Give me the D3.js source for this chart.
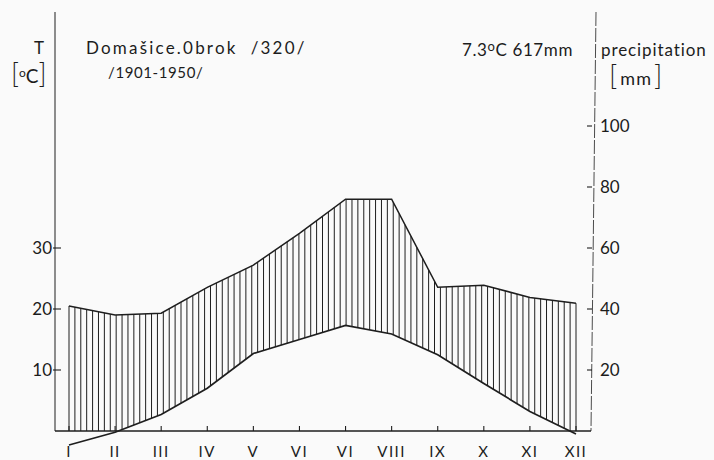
<!DOCTYPE html>
<html>
<head>
<meta charset="utf-8">
<script src="https://cdn.jsdelivr.net/npm/d3@7/dist/d3.min.js"></script>
<style>
  html, body { margin: 0; padding: 0; background: #fafafa; }
  svg { display: block; }
  text { font-family: Lato, "Open Sans", sans-serif; fill: #1c1c1c; }
</style>
</head>
<body>
<svg id="chart" width="714" height="460"></svg>
<script>
// ---- data ----
const months = ["I","II","III","IV","V","VI","VII","VIII","IX","X","XI","XII"];
const monthLabels = ["I","II","III","IV","V","VI","VI","VIII","IX","X","XI","XII"];
const temperature = [-2.3, -0.2, 2.7, 7.0, 12.7, 15.0, 17.3, 15.9, 12.5, 7.8, 3.2, -0.5];   // °C
const precipitation = [41.0, 38.0, 38.6, 47.1, 54.4, 64.8, 76.0, 76.0, 47.1, 47.8, 43.8, 41.9]; // mm
const tempTicks = [10, 20, 30];
const precTicks = [20, 40, 60, 80, 100];
const stationName = "Domašice.0brok  /320/";
const period = "/1901-1950/";
const meanTemp = "7.3";
const annualPrec = "617mm";

// ---- layout ----
const svg = d3.select("#chart");
const ink = "#1e1e1e";
const x = d3.scalePoint().domain(months).range([69, 576]);
const yT = d3.scaleLinear().domain([0, 10]).range([431, 370]);
const yP = d3.scaleLinear().domain([0, 20]).range([431, 370]);
const axisLeftX = 55, axisRightX = 591, axisTop = 12, base = yT(0);

// hatching (humid period): vertical lines between temp curve (>=0) and precipitation curve
const step = x.step();
const interp = (arr, px) => {
  const t = (px - x.range()[0]) / step;
  const i = Math.min(Math.floor(t), arr.length - 2);
  const f = t - i;
  return arr[i] + (arr[i + 1] - arr[i]) * f;
};
const hatchX = d3.range(0, 87).map(i => x.range()[0] + i * (x.range()[1] - x.range()[0]) / 86);
svg.append("g").selectAll("line").data(hatchX).join("line")
  .attr("x1", d => d).attr("x2", d => d)
  .attr("y1", d => yP(interp(precipitation, d)))
  .attr("y2", d => yT(Math.max(0, interp(temperature, d))))
  .attr("stroke", ink).attr("stroke-width", 1);

// baseline
svg.append("line").attr("x1", axisLeftX).attr("x2", axisRightX)
  .attr("y1", base).attr("y2", base).attr("stroke", ink).attr("stroke-width", 1.3);

// month ticks
svg.append("g").selectAll("line").data(months).join("line")
  .attr("x1", d => x(d)).attr("x2", d => x(d))
  .attr("y1", base).attr("y2", base - 5)
  .attr("stroke", ink).attr("stroke-width", 1.1);

// left axis
svg.append("line").attr("x1", axisLeftX).attr("x2", axisLeftX)
  .attr("y1", axisTop).attr("y2", base).attr("stroke", ink).attr("stroke-width", 1);
svg.append("g").selectAll("line").data(tempTicks).join("line")
  .attr("x1", axisLeftX - 2).attr("x2", axisLeftX + 6)
  .attr("y1", d => yT(d)).attr("y2", d => yT(d))
  .attr("stroke", ink).attr("stroke-width", 1.1);
svg.append("g").selectAll("text").data(tempTicks).join("text")
  .attr("x", axisLeftX - 3).attr("y", d => yT(d) + 6)
  .attr("text-anchor", "end").attr("font-size", 17).text(d => d);

// right axis
svg.append("line").attr("x1", axisRightX + 5).attr("x2", axisRightX)
  .attr("y1", axisTop).attr("y2", base).attr("stroke", ink).attr("stroke-width", 0.8)
  .attr("stroke-dasharray", "14,2");
svg.append("g").selectAll("line").data(precTicks).join("line")
  .attr("x1", axisRightX - 4).attr("x2", axisRightX + 1)
  .attr("y1", d => yP(d)).attr("y2", d => yP(d))
  .attr("stroke", ink).attr("stroke-width", 1.1);
svg.append("g").selectAll("text").data(precTicks).join("text")
  .attr("x", axisRightX + 9).attr("y", d => yP(d) + 6)
  .attr("text-anchor", "start").attr("font-size", 17).text(d => d);

// curves
svg.append("path").datum(precipitation)
  .attr("d", d3.line().x((d, i) => x(months[i])).y(d => yP(d)))
  .attr("fill", "none").attr("stroke", ink).attr("stroke-width", 1.5);
svg.append("path").datum(temperature)
  .attr("d", d3.line().x((d, i) => x(months[i])).y(d => yT(d)))
  .attr("fill", "none").attr("stroke", ink).attr("stroke-width", 1.7);

// month labels
svg.append("g").selectAll("text").data(months).join("text")
  .attr("x", d => x(d)).attr("y", 457)
  .attr("text-anchor", "middle").attr("font-size", 15).attr("letter-spacing", 1.5)
  .text((d, i) => monthLabels[i]);

// header texts
svg.append("text").attr("x", 86).attr("y", 54).attr("font-size", 17)
  .attr("letter-spacing", 2.2).attr("xml:space", "preserve").text(stationName);
svg.append("text").attr("x", 108).attr("y", 78).attr("font-size", 15)
  .attr("letter-spacing", 0.6).text(period);

svg.append("text").attr("x", 39).attr("y", 54).attr("font-size", 17)
  .attr("text-anchor", "middle").text("T");
const tu = svg.append("text").attr("x", 11).attr("y", 83).attr("font-size", 17);
tu.append("tspan").attr("font-size", 27).attr("font-weight", 300).text("[");
tu.append("tspan").attr("font-size", 12).attr("dy", -6).text("o");
tu.append("tspan").attr("font-size", 19).attr("dy", 6).text("C");
tu.append("tspan").attr("font-size", 27).attr("font-weight", 300).text("]");

const mt = svg.append("text").attr("x", 462).attr("y", 56).attr("font-size", 17)
  .attr("letter-spacing", 0.6);
mt.append("tspan").text(meanTemp);
mt.append("tspan").attr("font-size", 13).attr("dy", -5).text("o");
mt.append("tspan").attr("dy", 5).text("C " + annualPrec);

svg.append("text").attr("x", 601).attr("y", 56).attr("font-size", 17)
  .attr("letter-spacing", 0.9).text("precipitation");
const mu = svg.append("text").attr("x", 609).attr("y", 85).attr("font-size", 18);
mu.append("tspan").attr("font-size", 28).attr("font-weight", 300).text("[");
mu.append("tspan").attr("dx", 3).attr("letter-spacing", 1).text("mm");
mu.append("tspan").attr("dx", 2).attr("font-size", 28).attr("font-weight", 300).text("]");
</script>
</body>
</html>
